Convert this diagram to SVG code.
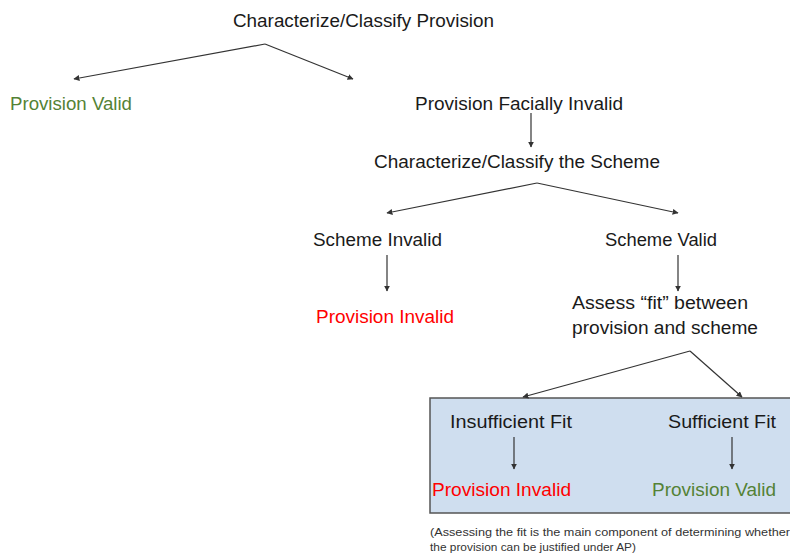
<svg xmlns="http://www.w3.org/2000/svg" width="790" height="558" viewBox="0 0 790 558">
<defs>
<marker id="ah" viewBox="0 0 10 10" refX="9" refY="5" markerWidth="6" markerHeight="6" orient="auto" markerUnits="userSpaceOnUse">
<path d="M0,0 L10,5 L0,10 z" fill="#333"/>
</marker>
<style>
text{font-family:"Liberation Sans","Open Sans",Arial,sans-serif;font-size:17.5px;fill:#1a1a1a}
.g{fill:#548235}
.r{fill:#ff0000}
.note{font-size:10.5px;fill:#333}
.c line{stroke:#333;stroke-width:1.2;fill:none;marker-end:url(#ah)}
</style>
</defs>
<rect width="790" height="558" fill="#fff"/>
<g id="fitbox"><rect x="430" y="398" width="362" height="115" fill="#cfdeef" stroke="#555" stroke-width="1.5"/></g>
<g class="c" id="connectors">
<line x1="265" y1="44" x2="74" y2="79"/>
<line x1="265" y1="44" x2="353" y2="79"/>
<line x1="531" y1="113" x2="531" y2="147"/>
<line x1="537" y1="183" x2="387" y2="213"/>
<line x1="537" y1="183" x2="678" y2="213"/>
<line x1="387" y1="255" x2="387" y2="291"/>
<line x1="678" y1="255" x2="678" y2="291"/>
<line x1="690" y1="351" x2="523" y2="397"/>
<line x1="690" y1="351" x2="742" y2="397"/>
<line x1="514" y1="437" x2="514" y2="469"/>
<line x1="732" y1="437" x2="732" y2="469"/>
</g>
<g id="n1"><text x="233" y="27" textLength="261" lengthAdjust="spacingAndGlyphs">Characterize/Classify Provision</text></g>
<g id="n2"><text class="g" x="10" y="110" textLength="122" lengthAdjust="spacingAndGlyphs">Provision Valid</text></g>
<g id="n3"><text x="415" y="110" textLength="208" lengthAdjust="spacingAndGlyphs">Provision Facially Invalid</text></g>
<g id="n4"><text x="374" y="168" textLength="286" lengthAdjust="spacingAndGlyphs">Characterize/Classify the Scheme</text></g>
<g id="n5"><text x="313" y="246" textLength="129" lengthAdjust="spacingAndGlyphs">Scheme Invalid</text></g>
<g id="n6"><text x="605" y="246" textLength="112" lengthAdjust="spacingAndGlyphs">Scheme Valid</text></g>
<g id="n7"><text class="r" x="316" y="323" textLength="138" lengthAdjust="spacingAndGlyphs">Provision Invalid</text></g>
<g id="n8"><text x="572" y="309" textLength="176" lengthAdjust="spacingAndGlyphs">Assess “fit” between</text><text x="572" y="334" textLength="186" lengthAdjust="spacingAndGlyphs">provision and scheme</text></g>
<g id="n9"><text x="450" y="428" textLength="122" lengthAdjust="spacingAndGlyphs">Insufficient Fit</text></g>
<g id="n10"><text x="668" y="428" textLength="108" lengthAdjust="spacingAndGlyphs">Sufficient Fit</text></g>
<g id="n11"><text class="r" x="432" y="496" textLength="139" lengthAdjust="spacingAndGlyphs">Provision Invalid</text></g>
<g id="n12"><text class="g" x="652" y="496" textLength="124" lengthAdjust="spacingAndGlyphs">Provision Valid</text></g>
<g id="note"><text class="note" x="430" y="536" textLength="360" lengthAdjust="spacingAndGlyphs">(Assessing the fit is the main component of determining whether</text><text class="note" x="430" y="551" textLength="206" lengthAdjust="spacingAndGlyphs">the provision can be justified under AP)</text></g>
</svg>
